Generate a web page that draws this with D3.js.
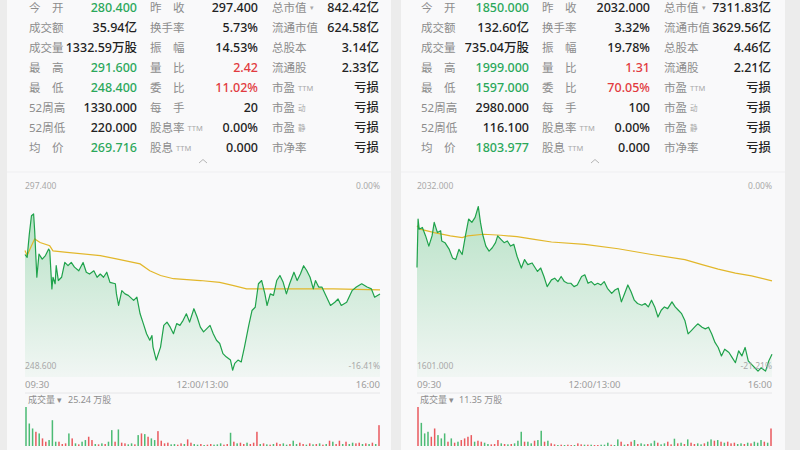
<!DOCTYPE html>
<html>
<head>
<meta charset="utf-8">
<script src="https://cdn.jsdelivr.net/npm/d3@7"></script>
<style>
  html, body { margin: 0; padding: 0; background: #ececec; }
  svg { display: block; font-family: "Noto Sans", "Noto Sans CJK SC", sans-serif; }
</style>
</head>
<body>
<div id="container"></div>
<script>
// ---------- data ----------
let labels1 = ["今开", "成交额", "成交量", "最高", "最低", "52周高", "52周低", "均价"];
let labels2 = ["昨收", "换手率", "振幅", "量比", "委比", "每手", "股息率|TTM", "股息|TTM"];
let labels3 = ["总市值|▾", "流通市值", "总股本", "流通股", "市盈|TTM", "市盈|动", "市盈|静", "市净率"];
let tone1 = ["g", "", "", "g", "g", "", "", "g"];
let tone2 = ["", "", "", "r", "r", "", "", ""];

let leftCol1 = ["280.400", "35.94亿", "1332.59万股", "291.600", "248.400", "1330.000", "220.000", "269.716"];
let leftCol2 = ["297.400", "5.73%", "14.53%", "2.42", "11.02%", "20", "0.00%", "0.000"];
let leftCol3 = ["842.42亿", "624.58亿", "3.14亿", "2.33亿", "亏损", "亏损", "亏损", "亏损"];
let rightCol1 = ["1850.000", "132.60亿", "735.04万股", "1999.000", "1597.000", "2980.000", "116.100", "1803.977"];
let rightCol2 = ["2032.000", "3.32%", "19.78%", "1.31", "70.05%", "100", "0.00%", "0.000"];
let rightCol3 = ["7311.83亿", "3629.56亿", "4.46亿", "2.21亿", "亏损", "亏损", "亏损", "亏损"];

let timeLabels = ["09:30", "12:00/13:00", "16:00"];

// left stock: minute index (0..330) and price
let leftT = [0,2,4,6,8,9,11,13,16,19,22,23,25,26,28,29,31,34,37,40,43,46,50,54,57,60,64,67,70,73,76,79,84,85,87,90,93,96,101,104,107,110,113,116,118,119,122,126,129,132,135,138,141,144,147,150,153,157,160,163,166,169,172,175,178,181,184,187,191,193,195,198,201,204,208,211,214,217,220,223,225,228,231,234,237,240,243,246,250,253,256,259,262,265,268,270,273,276,279,284,288,291,294,299,304,308,313,318,322,325,330];
let leftP = [280.4,279.6,286.0,291.1,291.6,286.9,274.1,280.5,279.1,280.1,281.9,281.4,270.9,274.1,272.3,277.3,273.2,274.1,278.2,277.3,278.2,276.9,275.9,278.2,275.5,275.0,275.9,274.1,275.0,274.1,275.5,272.7,272.3,269.5,266.3,270.4,269.5,269.1,267.7,268.6,264.0,261.3,258.5,256.7,258.0,254.8,251.2,254.8,260.8,261.7,260.3,258.5,261.3,260.8,262.2,264.0,261.7,265.4,263.1,260.3,259.0,259.9,260.8,258.5,256.7,255.8,253.0,252.1,251.2,248.4,250.3,251.2,250.7,254.8,260.8,264.9,265.8,272.3,273.2,269.5,266.3,269.5,269.1,273.2,274.6,272.7,269.5,272.3,275.5,273.2,275.0,277.3,275.9,274.1,270.9,273.2,271.4,271.4,269.5,266.3,267.2,268.1,266.3,267.2,270.4,271.4,272.3,271.4,270.9,268.6,269.5];
let leftAvgT = [0,2,6,9,14,23,26,39,70,85,107,116,126,138,163,181,194,206,225,287,330];
let leftAvgP = [281.5,280.1,282.8,284.7,283.7,282.8,281.4,281.0,280.1,279.2,277.8,275.9,274.6,273.7,273.2,272.7,271.8,270.9,270.9,270.9,270.6];
let leftVol = [25.24,14.55,11.34,9.2,8.13,4.92,2.78,3.85,16.69,2.78,
  2.78,1.28,1.71,8.13,4.92,1.71,1.07,2.78,3.85,5.99,
  3.85,1.28,1.07,1.71,1.28,2.78,10.27,2.78,10.7,2.14,
  1.71,1.07,1.71,1.07,7.06,8.13,7.7,5.99,4.92,3.85,
  9.63,3.42,1.71,2.14,1.07,1.28,0.86,1.71,1.28,4.28,
  2.14,1.28,0.86,1.28,0.64,0.86,1.28,0.86,1.07,1.71,
  0.86,1.28,8.56,2.78,1.71,2.14,1.28,2.14,1.28,2.14,
  9.2,1.28,1.71,1.07,0.86,1.28,2.14,1.28,1.71,0.86,
  1.28,3.42,1.28,2.14,1.28,0.86,1.71,1.07,1.28,1.71,
  0.86,1.28,3.42,2.78,1.28,3.42,1.28,2.78,1.28,2.14,
  1.71,2.14,1.28,1.71,1.28,2.14,1.28,13.48];
let leftDir = [0,0,0,1,0,1,1,0,0,0, 1,1,1,0,1,0,1,0,0,1, 1,0,1,0,1,0,0,1,0,1, 1,0,0,1,0,1,0,1,0,0, 1,1,1,1,0,0,1,1,0,1, 1,0,0,1,0,1,1,0,0,0, 1,1,0,1,0,1,1,0,1,1, 1,0,1,0,1,0,1,1,0,0, 1,0,0,1,1,0,1,0,1,0, 1,0,1,0,1,1,0,1,0,0, 1,1,0,1,0,1,0,1];

// right stock
let rightT = [0,1,2,5,8,11,14,16,19,22,23,26,30,33,36,39,42,45,48,51,54,57,59,61,64,67,70,73,75,78,81,84,87,90,93,97,100,103,107,111,112,115,118,121,125,128,131,134,137,140,143,146,149,153,156,159,162,165,168,171,174,177,181,184,187,190,193,196,199,202,205,209,212,215,218,221,224,227,230,233,237,240,243,246,249,252,255,258,261,265,268,271,274,277,280,283,286,290,293,296,299,302,305,308,311,314,317,320,324,327,330];
let rightP = [1850,1968.5,1943.7,1947.8,1927.2,1902.4,1927.2,1960.2,1935.4,1939.6,
  1914.8,1910.7,1894.2,1873.5,1869.4,1894.2,1881.8,1927.2,1968.5,1960.2,
  1972.6,1999,1960.2,1931.3,1902.4,1890.0,1898.3,1910.7,1927.2,1918.9,
  1910.7,1914.8,1902.4,1906.5,1877.6,1848.8,1869.4,1857.0,1861.1,1844.6,
  1840.5,1848.8,1828.1,1803.4,1819.9,1824.0,1815.7,1828.1,1815.7,1811.6,
  1811.6,1803.4,1807.5,1828.1,1832.3,1811.6,1815.7,1807.5,1811.6,1807.5,
  1815.7,1799.2,1786.8,1795.1,1799.2,1766.2,1786.8,1807.5,1791.0,1770.3,
  1762.1,1757.9,1762.1,1753.8,1770.3,1753.8,1729.1,1745.6,1753.8,1749.7,
  1766.2,1753.8,1745.6,1737.3,1720.8,1687.8,1696.0,1704.3,1712.6,1704.3,
  1700.2,1704.3,1687.8,1667.1,1654.8,1634.1,1650.6,1642.4,1630.0,1617.6,
  1646.5,1634.1,1654.8,1621.7,1613.5,1605.2,1597,1605.2,1597.0,1621.7,
  1638.3];
let rightAvgT = [0,3,16,31,42,47,62,78,93,109,125,156,187,218,249,265,280,296,311,330];
let rightAvgP = [1952.0,1943.7,1935.4,1927.2,1923.1,1927.2,1931.3,1928.8,1925.5,1918.9,1912.3,1906.5,1895.8,1881.8,1869.4,1857.0,1846.3,1836.4,1829.8,1817.4];
let rightVol = [11.35,6.73,3.66,4.14,2.69,5.1,3.17,2.21,3.66,1.25,
  2.21,0.96,1.25,1.73,2.21,2.69,3.17,1.25,1.54,1.25,
  0.96,0.58,0.48,0.58,1.73,0.77,0.58,0.48,0.58,0.77,
  1.54,4.14,1.25,1.25,0.77,1.54,1.73,4.43,1.25,1.54,
  0.77,0.48,0.29,0.38,0.29,0.38,0.29,0.29,0.77,0.48,
  0.38,0.38,0.38,0.29,0.29,0.38,0.38,0.96,0.38,0.29,
  1.92,1.25,0.38,0.58,1.25,1.73,0.58,0.77,0.48,0.58,
  0.77,1.54,0.96,0.48,0.77,1.25,0.48,2.12,0.77,0.96,
  0.58,1.92,0.96,0.58,0.77,0.48,0.77,1.25,1.92,1.54,
  1.73,1.25,0.96,1.25,0.77,0.96,0.58,0.77,0.58,0.96,
  0.77,1.25,0.96,1.73,1.25,0.96,5.1];
let rightDir = [1,0,0,0,1,1,0,0,0,1, 0,1,0,1,1,1,1,0,1,1, 0,0,1,1,1,0,1,0,1,0, 0,0,1,0,0,1,0,0,1,0, 1,1,0,1,0,1,1,0,1,1, 0,1,0,1,1,0,0,0,1,0, 0,1,0,1,1,0,1,0,0,1, 0,0,1,0,0,1,1,0,1,0, 1,0,1,1,0,0,1,0,0,1, 0,1,0,1,1,1,0,0,1,0, 1,0,0,0,1,0,1];

// ---------- drawing ----------
let w = 800;
let h = 450;
let green = "#2ba85a";
let red = "#e23b40";
let labelGray = "#8c8c8c";

let viz = d3.select("#container")
  .append("svg")
    .attr("width", w)
    .attr("height", h)
    .style("background-color", "#ececec");

let defs = viz.append("defs");
let grad = defs.append("linearGradient")
    .attr("id", "fillGrad")
    .attr("x1", 0).attr("y1", 0).attr("x2", 0).attr("y2", 1);
grad.append("stop").attr("offset", "0%").attr("stop-color", "#2fb25a").attr("stop-opacity", 0.32);
grad.append("stop").attr("offset", "100%").attr("stop-color", "#2fb25a").attr("stop-opacity", 0.04);

function toneColor(t) {
  if (t == "g") return green;
  if (t == "r") return red;
  return "#222";
}

function drawLabel(g, x, y, str) {
  let parts = str.split("|");
  let main = parts[0];
  let suffix = parts[1];
  if (main.length == 2 && !suffix) {
    // two-character labels are stretched to the width of three
    g.append("text").attr("x", x).attr("y", y).attr("dy", "0.35em")
      .attr("font-size", 11.5).attr("fill", labelGray).text(main[0]);
    g.append("text").attr("x", x + 34.5).attr("y", y).attr("dy", "0.35em")
      .attr("text-anchor", "end")
      .attr("font-size", 11.5).attr("fill", labelGray).text(main[1]);
  } else {
    g.append("text").attr("x", x).attr("y", y).attr("dy", "0.35em")
      .attr("font-size", 11.5).attr("fill", labelGray).text(main);
  }
  if (suffix) {
    let mw = main.length * 11.5;
    g.append("text").attr("x", x + mw + 3).attr("y", y).attr("dy", "0.35em")
      .attr("font-size", suffix == "▾" ? 7 : 7.5)
      .attr("fill", "#a8a8a8").text(suffix);
  }
}

function drawPanel(p) {
  let g = viz.append("g").attr("transform", "translate(" + p.dx + ",0)");

  g.append("rect")
    .attr("x", p.px).attr("y", 0)
    .attr("width", p.pw).attr("height", h)
    .attr("fill", "#f9f9fa");

  // info table
  let rowY = d3.range(8).map(i => 8 + 20 * i);
  rowY.forEach(function (y, i) {
    drawLabel(g, 29, y, labels1[i]);
    drawLabel(g, 150, y, labels2[i]);
    drawLabel(g, 272, y, labels3[i]);
    g.append("text").attr("x", 137).attr("y", y).attr("dy", "0.35em")
      .attr("text-anchor", "end").attr("font-size", 12.5).attr("font-weight", 500)
      .attr("fill", toneColor(tone1[i])).text(p.col1[i]);
    g.append("text").attr("x", 258).attr("y", y).attr("dy", "0.35em")
      .attr("text-anchor", "end").attr("font-size", 12.5).attr("font-weight", 500)
      .attr("fill", toneColor(tone2[i])).text(p.col2[i]);
    g.append("text").attr("x", 379).attr("y", y).attr("dy", "0.35em")
      .attr("text-anchor", "end").attr("font-size", 12.5).attr("font-weight", 500)
      .attr("fill", "#222").text(p.col3[i]);
  });

  // collapse chevron
  g.append("path")
    .attr("d", "M199,163 L203,159.5 L207,163")
    .attr("fill", "none").attr("stroke", "#b5b5b5").attr("stroke-width", 1);

  g.append("line")
    .attr("x1", p.px).attr("x2", p.px + p.pw).attr("y1", 172).attr("y2", 172)
    .attr("stroke", "#efeff1");

  // price chart
  let xScale = d3.scaleLinear().domain([0, 330]).range([25, 380]);
  let yScale = d3.scaleLinear().domain([p.low, p.prevClose]).range([369.5, 193]);
  let pts = d3.zip(p.t, p.price);
  let avgPts = d3.zip(p.avgT, p.avgP);

  let area = d3.area()
    .x(d => xScale(d[0]))
    .y0(377)
    .y1(d => yScale(d[1]));
  g.append("path").datum(pts)
    .attr("d", area)
    .attr("fill", "url(#fillGrad)");

  let line = d3.line()
    .x(d => xScale(d[0]))
    .y(d => yScale(d[1]));
  g.append("path").datum(avgPts)
    .attr("d", line)
    .attr("fill", "none").attr("stroke", "#e2b72a").attr("stroke-width", 1.2);
  g.append("path").datum(pts)
    .attr("d", line)
    .attr("fill", "none").attr("stroke", "#1fa24b").attr("stroke-width", 1.2)
    .attr("stroke-linejoin", "round");

  let small = "#a9a9a9";
  g.append("text").attr("x", 25).attr("y", 186).attr("dy", "0.35em")
    .attr("font-size", 8.5).attr("fill", small).text(p.prevClose.toFixed(3));
  g.append("text").attr("x", 380).attr("y", 186).attr("dy", "0.35em")
    .attr("text-anchor", "end").attr("font-size", 8.5).attr("fill", small).text("0.00%");
  g.append("text").attr("x", 25).attr("y", 366).attr("dy", "0.35em")
    .attr("font-size", 8.5).attr("fill", small).text(p.low.toFixed(3));
  g.append("text").attr("x", 380).attr("y", 366).attr("dy", "0.35em")
    .attr("text-anchor", "end").attr("font-size", 8.5).attr("fill", small).text(p.lowPct);

  // time axis
  let timeX = d3.scalePoint().domain(timeLabels).range([25, 380]);
  g.selectAll(".tlab").data(timeLabels).enter()
    .append("text")
      .attr("x", d => timeX(d))
      .attr("y", 385).attr("dy", "0.35em")
      .attr("text-anchor", (d, i) => i == 0 ? "start" : (i == 2 ? "end" : "middle"))
      .attr("font-size", 9.5).attr("fill", "#9d9d9d")
      .text(d => d);

  g.append("line")
    .attr("x1", 25).attr("x2", 380).attr("y1", 393).attr("y2", 393)
    .attr("stroke", "#e6e6e8");

  // volume
  let vmax = d3.max(p.vol);
  g.append("text").attr("x", 28).attr("y", 400).attr("dy", "0.35em")
    .attr("font-size", 9).attr("fill", "#8e8e8e").text("成交量 ▾");
  g.append("text").attr("x", p.volLabelX).attr("y", 400).attr("dy", "0.35em")
    .attr("font-size", 9).attr("fill", "#8e8e8e").text(vmax.toFixed(2) + " 万股");

  let xv = d3.scaleLinear().domain([0, p.vol.length - 1]).range([26, 379]);
  let yv = d3.scaleLinear().domain([0, vmax]).range([446, 407]);
  g.selectAll(".vbar").data(p.vol).enter()
    .append("rect")
      .attr("x", (d, i) => xv(i) - 0.75)
      .attr("y", d => yv(d))
      .attr("width", 1.5)
      .attr("height", d => 446 - yv(d))
      .attr("fill", (d, i) => p.dir[i] ? "#e8484d" : "#38b465")
      .attr("opacity", 0.9);
}

drawPanel({
  dx: 0, px: 7, pw: 384,
  col1: leftCol1, col2: leftCol2, col3: leftCol3,
  t: leftT, price: leftP, avgT: leftAvgT, avgP: leftAvgP,
  prevClose: 297.4, low: 248.6, lowPct: "-16.41%",
  vol: leftVol, dir: leftDir, volLabelX: 68
});

drawPanel({
  dx: 392, px: 9, pw: 384,
  col1: rightCol1, col2: rightCol2, col3: rightCol3,
  t: rightT, price: rightP, avgT: rightAvgT, avgP: rightAvgP,
  prevClose: 2032, low: 1601, lowPct: "-21.21%",
  vol: rightVol, dir: rightDir, volLabelX: 67
});
</script>
</body>
</html>
